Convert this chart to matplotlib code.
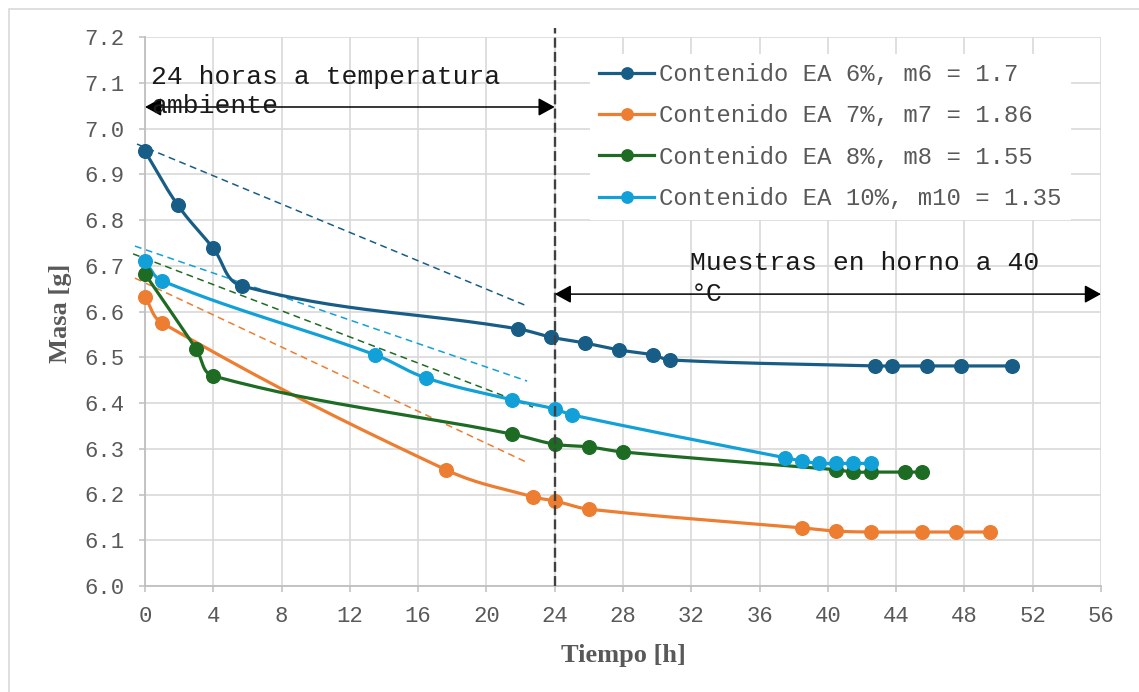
import numpy as np
import matplotlib
matplotlib.use("Agg")
import matplotlib.pyplot as plt
from matplotlib.lines import Line2D
from matplotlib.patches import Rectangle

plt.rcParams['font.family'] = ['Liberation Mono', 'DejaVu Sans']

# ---------------- data ----------------
t6 = [0, 1.93, 3.98, 5.68, 21.85, 23.78, 25.78, 27.77, 29.76, 30.76, 42.77, 43.76, 45.81, 47.80, 50.79]
m6 = [6.950, 6.832, 6.739, 6.656, 6.562, 6.544, 6.531, 6.516, 6.505, 6.494, 6.481, 6.481, 6.481, 6.481, 6.481]

t7 = [0, 1.0, 17.63, 22.7, 24.0, 26.0, 38.5, 40.5, 42.5, 45.5, 47.5, 49.5]
m7 = [6.632, 6.575, 6.254, 6.195, 6.186, 6.168, 6.127, 6.120, 6.118, 6.118, 6.118, 6.118]

t8 = [0, 3.0, 4.0, 21.5, 24.0, 26.0, 28.0, 40.5, 41.5, 42.5, 44.5, 45.5]
m8 = [6.682, 6.518, 6.459, 6.332, 6.310, 6.304, 6.293, 6.254, 6.249, 6.249, 6.249, 6.249]

t10 = [0, 1.0, 13.5, 16.45, 21.5, 24.0, 25.0, 37.5, 38.5, 39.5, 40.5, 41.5, 42.5]
m10 = [6.710, 6.667, 6.505, 6.455, 6.407, 6.387, 6.374, 6.280, 6.273, 6.268, 6.268, 6.268, 6.268]

labels = ["Contenido EA 6%, m6 = 1.7",
          "Contenido EA 7%, m7 = 1.86",
          "Contenido EA 8%, m8 = 1.55",
          "Contenido EA 10%, m10 = 1.35"]

# dashed tangent lines: (x_start, y_start, x_end, y_end)
trend6 = (-0.47, 6.966, 22.38, 6.612)
trend7 = (-0.59, 6.673, 22.44, 6.269)
trend8 = (-0.70, 6.726, 22.73, 6.391)
trend10 = (-0.59, 6.743, 22.38, 6.448)

oven_start = 24
x_end = 56
ambient_arrow_y = 7.047
oven_arrow_y = 6.638
ambient_text = "24 horas a temperatura\nambiente"
oven_text = "Muestras en horno a 40\n°C"

x_ticks = list(range(0, 57, 4))
y_ticks = [6.0, 6.1, 6.2, 6.3, 6.4, 6.5, 6.6, 6.7, 6.8, 6.9, 7.0, 7.1, 7.2]

colors = ["#175D86", "#ED7D31", "#1E6B24", "#12A0D8"]
series = [(t6, m6), (t7, m7), (t8, m8), (t10, m10)]
trends = [trend6, trend7, trend8, trend10]

# ---------------- figure ----------------
W, H = 1139, 692
fig = plt.figure(figsize=(W / 100, H / 100), dpi=100)
fig.patches.append(Rectangle((9 / W, -0.1), 1.2, 1 - 9 / H + 0.1, transform=fig.transFigure,
                             fill=False, edgecolor="#D9D9D9", lw=1.2, zorder=0))
ax = fig.add_axes([145 / W, 1 - 586 / H, 956 / W, 549 / H])
ax.set_xlim(0, 56)
ax.set_ylim(6.0, 7.2)
ax.set_xticks(x_ticks)
ax.set_yticks(y_ticks)
ax.set_yticklabels([f"{v:.1f}" for v in y_ticks])
ax.grid(True, color="#D9D9D9", lw=1.2)
ax.set_axisbelow(True)
for s in ["top", "right"]:
    ax.spines[s].set_visible(False)
for s in ["left", "bottom"]:
    ax.spines[s].set_color("#BFBFBF")
    ax.spines[s].set_linewidth(1.3)
ax.tick_params(axis="both", direction="out", length=4.5, width=1.1, color="#BFBFBF",
               labelcolor="#595959", labelsize=16, pad=10)


def smooth_path(ax, x, y, k=0.38, n=30):
    P = ax.transData.transform(np.column_stack([x, y]))
    out = []
    for i in range(len(P) - 1):
        p1, p2 = P[i], P[i + 1]
        p0 = P[i - 1] if i > 0 else P[i]
        p3 = P[i + 2] if i + 2 < len(P) else P[i + 1]
        d = np.hypot(*(p2 - p1))
        a = p2 - p0
        b = p3 - p1
        a = a / np.hypot(*a)
        b = b / np.hypot(*b)
        c1 = p1 + k * d * a
        c2 = p2 - k * d * b
        t = np.linspace(0, 1, n)[:, None]
        seg = (1 - t) ** 3 * p1 + 3 * (1 - t) ** 2 * t * c1 + 3 * (1 - t) * t ** 2 * c2 + t ** 3 * p2
        out.append(seg if i == 0 else seg[1:])
    pts = np.vstack(out)
    return ax.transData.inverted().transform(pts)


# dashed tangent lines
for tr, c in zip(trends, colors):
    ax.plot([tr[0], tr[2]], [tr[1], tr[3]], color=c, lw=1.1, ls=(0, (4.5, 3)),
            clip_on=False, zorder=2)

# series
for (x, y), c in zip(series, colors):
    sp = smooth_path(ax, x, y)
    ax.plot(sp[:, 0], sp[:, 1], color=c, lw=2.3, clip_on=False, zorder=3,
            solid_capstyle="round")
    ax.plot(x, y, ls="none", marker="o", ms=9.8, color=c, clip_on=False, zorder=4)

# vertical dashed line
ax.plot([oven_start, oven_start], [6.0, 7.22], color="#404040", lw=1.7,
        ls=(0, (4.2, 1.8)), clip_on=False, zorder=5)

# arrows and annotations
arrowstyle = "<|-|>,head_length=1.0,head_width=0.55"
ax.annotate("", xy=(0, ambient_arrow_y), xytext=(oven_start, ambient_arrow_y),
            arrowprops=dict(arrowstyle=arrowstyle, mutation_scale=10, color="black",
                            lw=1.1, shrinkA=0, shrinkB=0), annotation_clip=False, zorder=6)
ax.annotate("", xy=(oven_start, oven_arrow_y), xytext=(x_end, oven_arrow_y),
            arrowprops=dict(arrowstyle=arrowstyle, mutation_scale=10, color="black",
                            lw=1.1, shrinkA=0, shrinkB=0), annotation_clip=False, zorder=6)
ax.text(0.36, 7.033, ambient_text, fontsize=19, color="#1a1a1a", va="baseline", ha="left",
        linespacing=1.3, zorder=6)
ax.text(31.95, 6.622, oven_text, fontsize=19, color="#1a1a1a", va="baseline", ha="left",
        linespacing=1.38, zorder=6)

# axis labels
ax.set_xlabel("Tiempo [h]", fontsize=19, fontweight="bold", family="Liberation Serif",
              color="#595959", va="center")
ax.xaxis.set_label_coords(0.5, -(655.5 - 586) / 549)
ax.set_ylabel("Masa [g]", fontsize=19, fontweight="bold", family="Liberation Serif",
              color="#595959", va="center")
ax.yaxis.set_label_coords(-(145 - 60) / 956, (586 - 313) / 549)

# legend
handles = [Line2D([], [], color=c, lw=2.3, marker="o", ms=8.2) for c in colors]
leg = ax.legend(handles, labels, loc="upper left",
                bbox_to_anchor=(589.6 / W, 1 - 53.5 / H), bbox_transform=fig.transFigure,
                borderaxespad=0, frameon=True, fancybox=False, facecolor="white",
                edgecolor="none", framealpha=1, fontsize=17.2, handlelength=2.3,
                handletextpad=0.2, labelspacing=0.77, borderpad=0.4)
for txt in leg.get_texts():
    txt.set_color("#595959")
leg.set_zorder(7)

fig.savefig("out.png", dpi=100)
